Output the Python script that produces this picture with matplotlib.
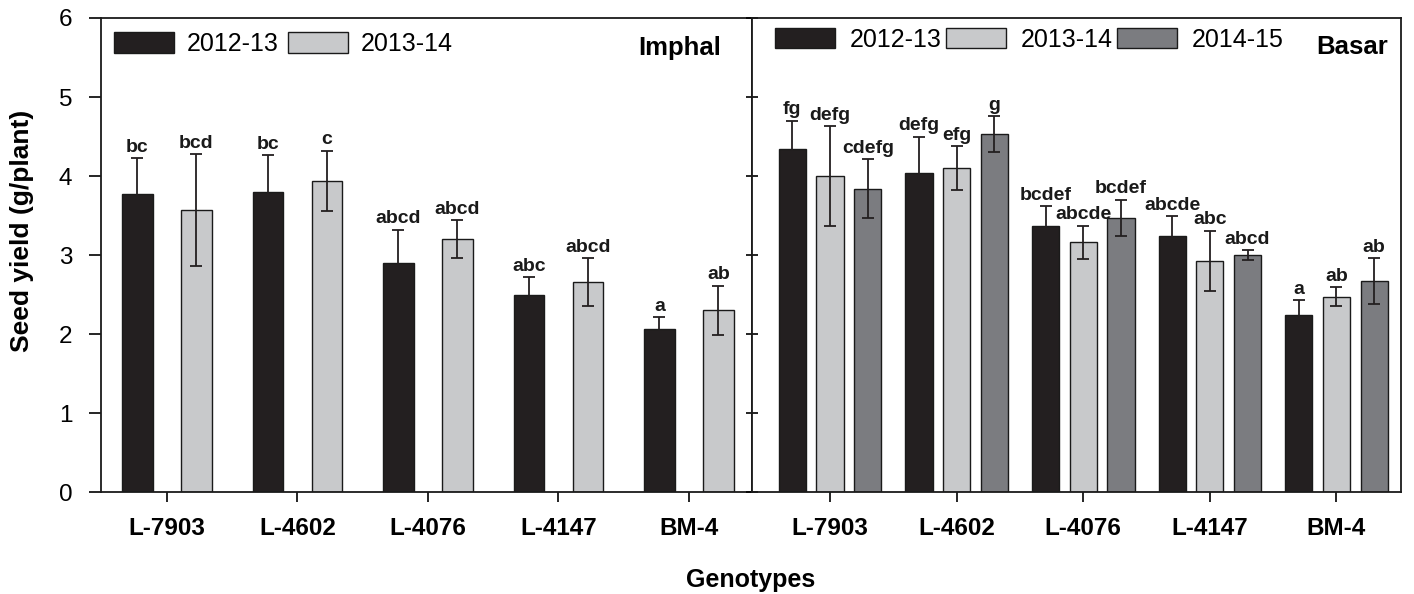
import numpy as np
import matplotlib.pyplot as plt

plt.rcParams['font.family'] = ['Liberation Sans', 'DejaVu Sans']

genotypes = ['L-7903', 'L-4602', 'L-4076', 'L-4147', 'BM-4']

# Imphal
imp_years = ['2012-13', '2013-14']
imp_mean = [[3.77, 3.80, 2.90, 2.50, 2.06],
            [3.57, 3.94, 3.20, 2.66, 2.30]]
imp_err = [[0.46, 0.46, 0.42, 0.22, 0.15],
           [0.71, 0.38, 0.24, 0.30, 0.31]]
imp_lab = [['bc', 'bc', 'abcd', 'abc', 'a'],
           ['bcd', 'c', 'abcd', 'abcd', 'ab']]

# Basar
bas_years = ['2012-13', '2013-14', '2014-15']
bas_mean = [[4.34, 4.04, 3.37, 3.24, 2.24],
            [4.00, 4.10, 3.16, 2.93, 2.47],
            [3.84, 4.53, 3.47, 3.00, 2.67]]
bas_err = [[0.36, 0.46, 0.25, 0.25, 0.19],
           [0.63, 0.28, 0.21, 0.38, 0.12],
           [0.37, 0.23, 0.23, 0.06, 0.29]]
bas_lab = [['fg', 'defg', 'bcdef', 'abcde', 'a'],
           ['defg', 'efg', 'abcde', 'abc', 'ab'],
           ['cdefg', 'g', 'bcdef', 'abcd', 'ab']]

colors = ['#231f20', '#c8c9cb', '#7b7c80']

fig = plt.figure(figsize=(14.14, 5.94), dpi=100)
ax1 = fig.add_axes([0.0714, 0.1717, 0.4604, 0.798])
ax2 = fig.add_axes([0.5318, 0.1717, 0.459, 0.798])

x = np.arange(len(genotypes))


def draw(ax, years, means, errs, labs, offs, width):
    for i, yr in enumerate(years):
        xp = x + offs[i]
        ax.bar(xp, means[i], width, color=colors[i], edgecolor='#1a1a1a',
               linewidth=1.0, label=yr, zorder=2)
        ax.errorbar(xp, means[i], yerr=errs[i], fmt='none', ecolor='#231f20',
                    elinewidth=1.3, capsize=4, capthick=1.3, zorder=3)
        for xx, m, e, t in zip(xp, means[i], errs[i], labs[i]):
            ax.text(xx, m + e + 0.08, t, ha='center', va='baseline',
                    fontsize=14, fontweight='bold', color='#1a1a1a')
    ax.set_ylim(0, 6)
    ax.set_xticks(x)
    ax.set_xticklabels(genotypes, fontsize=17.5, fontweight='bold')
    ax.tick_params(axis='x', direction='out', length=7, width=1.2, pad=11)
    for s in ax.spines.values():
        s.set_linewidth(1.3)
        s.set_color('#1a1a1a')


draw(ax1, imp_years, imp_mean, imp_err, imp_lab, [-0.226, 0.226], 0.235)
draw(ax2, bas_years, bas_mean, bas_err, bas_lab, [-0.298, 0.0, 0.298], 0.215)

ax1.set_xlim(-0.506, 4.483)
ax2.set_xlim(-0.617, 4.51)

ax1.set_yticks(range(7))
ax1.tick_params(axis='y', direction='out', length=8.5, width=1.2, pad=12,
                labelsize=17.5)
ax2.set_yticks(range(7))
ax2.tick_params(axis='y', direction='inout', length=9, width=1.2,
                labelleft=False)

ax1.legend(loc='center left', bbox_to_anchor=(0.02, 0.945), ncol=2,
           frameon=False, fontsize=18, handlelength=2.4, handleheight=0.88,
           handletextpad=0.5, columnspacing=0.4, borderpad=0, borderaxespad=0)
ax2.legend(loc='center left', bbox_to_anchor=(0.035, 0.954), ncol=3,
           frameon=False, fontsize=18, handlelength=2.4, handleheight=0.88,
           handletextpad=0.6, columnspacing=0.16, borderpad=0, borderaxespad=0)

ax1.text(0.952, 0.937, 'Imphal', transform=ax1.transAxes, ha='right',
         va='center', fontsize=18.5, fontweight='bold')
ax2.text(0.98, 0.939, 'Basar', transform=ax2.transAxes, ha='right',
         va='center', fontsize=18.5, fontweight='bold')

fig.text(22 / 1414, 1 - 231 / 594, 'Seed yield (g/plant)', rotation=90,
         ha='center', va='center', fontsize=19, fontweight='bold')
fig.text(751 / 1414, 1 - 580 / 594, 'Genotypes', ha='center', va='center',
         fontsize=18, fontweight='bold')

fig.savefig('out.png', dpi=100)
